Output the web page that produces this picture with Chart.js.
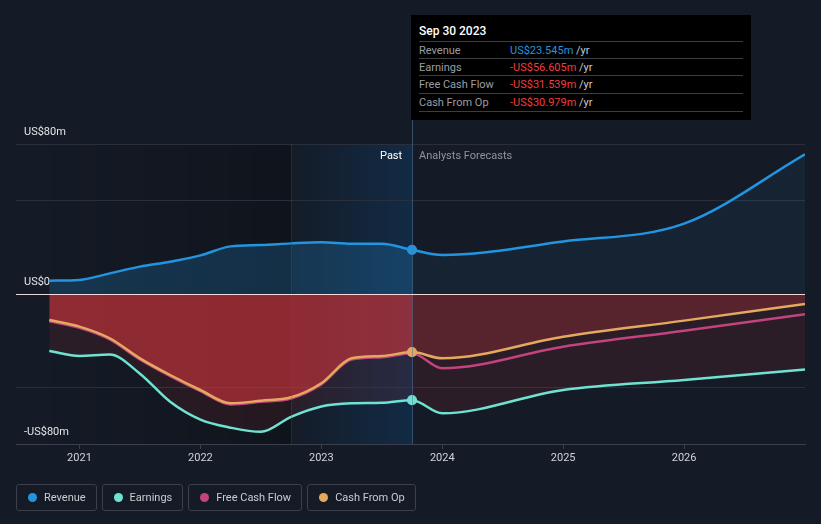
<!DOCTYPE html>
<html>
<head>
<meta charset="utf-8">
<script src="https://cdn.jsdelivr.net/npm/chart.js@4.4.1/dist/chart.umd.min.js"></script>
<style>
  body { margin: 0; background: #151b26; font-family: Roboto, "Open Sans", sans-serif; }
  #wrap { position: relative; width: 821px; height: 524px; overflow: hidden; }
  #myChart { position: absolute; left: 0; top: 0; }
  .tip { position: absolute; left: 411px; top: 15px; width: 340px; height: 105px; background: #000; }
  .tip .title { position: absolute; left: 8px; top: 9px; color: #fff; font-size: 12px; font-weight: 500; }
  .tip .row { position: absolute; left: 8px; width: 324px; height: 17px; border-top: 1px solid #3a3d42; font-size: 11px; line-height: 17px; color: #9a9ea5; }
  .tip .row .val { position: absolute; left: 91px; top: 0; }
  .tip .last { position: absolute; left: 8px; width: 324px; top: 96px; border-top: 1px solid #3a3d42; }
  .blue { color: #2394df; }
  .red { color: #ef3e3e; }
  .yr { color: #c8cbd0; }
  .note { position: absolute; top: 149px; font-size: 11px; }
  .legend { position: absolute; left: 16px; top: 484px; display: flex; gap: 5px; }
  .legend div { height: 25px; border: 1px solid #3a3f4a; border-radius: 3px; padding: 0 10px 0 11px; display: flex; align-items: center; font-size: 11px; color: #c9ccd1; }
  .legend span { display: inline-block; width: 9px; height: 9px; border-radius: 50%; margin-right: 7px; }
</style>
</head>
<body>
<div id="wrap">
  <canvas id="myChart" width="821" height="524"></canvas>
  <div class="tip">
    <div class="title">Sep 30 2023</div>
    <div class="row" style="top:26px">Revenue<span class="val"><span class="blue">US$23.545m</span> <span class="yr">/yr</span></span></div>
    <div class="row" style="top:43px">Earnings<span class="val"><span class="red">-US$56.605m</span> <span class="yr">/yr</span></span></div>
    <div class="row" style="top:60px">Free Cash Flow<span class="val"><span class="red">-US$31.539m</span> <span class="yr">/yr</span></span></div>
    <div class="row" style="top:78px">Cash From Op<span class="val"><span class="red">-US$30.979m</span> <span class="yr">/yr</span></span></div>
    <div class="last"></div>
  </div>
  <div class="note" style="left:380px;color:#fff">Past</div>
  <div class="note" style="left:419px;color:#8f949c">Analysts Forecasts</div>
  <div class="legend">
    <div><span style="background:#2394df"></span>Revenue</div>
    <div><span style="background:#6fe3d2"></span>Earnings</div>
    <div><span style="background:#c2437e"></span>Free Cash Flow</div>
    <div><span style="background:#e4a95f"></span>Cash From Op</div>
  </div>
</div>
<script>
const ctx = document.getElementById('myChart');

// quarterly trailing figures up to Sep 2023, then analyst forecasts (US$m)
const dates = [2020.75, 2021, 2021.25, 2021.5, 2021.75, 2022, 2022.25, 2022.5, 2022.75, 2023, 2023.25, 2023.5, 2023.75, 2024, 2025, 2026, 2027]
const revenue = [7.1, 7.5, 11, 14.6, 17.2, 20.6, 25.4, 26.1, 27, 27.6, 26.8, 26.8, 23.545, 20.8, 28, 37.5, 74.5]
const earnings = [-30.4, -33, -32.3, -42.5, -57.5, -67, -71.3, -73.5, -65.5, -60, -58.3, -58, -56.605, -63.6, -51.2, -45.9, -40.2]
const freeCashFlow = [-14.5, -18, -24.2, -34.9, -43.8, -51.8, -58.9, -57.5, -55.7, -48.2, -34.9, -33.7, -31.539, -39.6, -28.1, -19.6, -10.8]
const cashFromOp = [-13.9, -17.4, -23.6, -34.3, -43.2, -51.2, -58.3, -56.9, -55.1, -47.6, -34.3, -33.1, -30.979, -34.3, -22.8, -14.2, -5.3]
const yearTicks = [2021, 2022, 2023, 2024, 2025, 2026]
const yTicks = [-80, -50, 0, 50, 80]
const yLabels = { '80': 'US$80m', '0': 'US$0', '-80': '-US$80m' }

const NOW = 2023.75
const LAST_YEAR = 2022.75

function points (values) {
  return values.map((v, i) => ({ x: dates[i], y: v }))
}

// fill that is stronger on the past side than on the forecast side
function splitFill (past, future) {
  return function (context) {
    const chart = context.chart
    const { chartArea, scales } = chart
    if (!chartArea) return past
    const g = chart.ctx.createLinearGradient(chartArea.left, 0, chartArea.right, 0)
    let p = (scales.x.getPixelForValue(NOW) - chartArea.left) / (chartArea.right - chartArea.left)
    p = Math.max(0, Math.min(0.999, p))
    g.addColorStop(0, past)
    g.addColorStop(p, past)
    g.addColorStop(p + 0.001, future)
    g.addColorStop(1, future)
    return g
  }
}

function marker (r) {
  return c => (c.raw && c.raw.x === NOW ? r : 0)
}

const backdrop = {
  id: 'backdrop',
  beforeDraw (chart) {
    const { ctx: c, chartArea: a, scales } = chart
    const x0 = scales.x.getPixelForValue(dates[0])
    const x1 = scales.x.getPixelForValue(LAST_YEAR)
    const x2 = scales.x.getPixelForValue(NOW)
    c.save()
    let g = c.createLinearGradient(x0, 0, x1, 0)
    g.addColorStop(0, 'rgba(0,0,0,0)')
    g.addColorStop(1, 'rgba(0,0,0,0.25)')
    c.fillStyle = g
    c.fillRect(x0, a.top, x1 - x0, a.bottom - a.top)
    g = c.createLinearGradient(x1, 0, x2, 0)
    g.addColorStop(0, 'rgba(10,90,160,0.02)')
    g.addColorStop(1, 'rgba(10,90,160,0.26)')
    c.fillStyle = g
    c.fillRect(x1, a.top, x2 - x1, a.bottom - a.top)
    c.restore()
  },
  afterDatasetsDraw (chart) {
    const { ctx: c, chartArea: a, scales } = chart
    const y0 = Math.round(scales.y.getPixelForValue(0)) + 0.5
    const x1 = Math.round(scales.x.getPixelForValue(LAST_YEAR)) + 0.5
    const x2 = Math.round(scales.x.getPixelForValue(NOW)) + 0.5
    c.save()
    c.lineWidth = 1
    c.strokeStyle = 'rgba(40,100,150,0.28)'
    c.beginPath(); c.moveTo(x1, a.top); c.lineTo(x1, a.bottom); c.stroke()
    c.strokeStyle = 'rgba(80,120,160,0.55)'
    c.beginPath(); c.moveTo(x2, 120); c.lineTo(x2, a.bottom); c.stroke()
    c.strokeStyle = 'rgba(255,235,235,0.9)'
    c.beginPath(); c.moveTo(a.left, y0); c.lineTo(a.right, y0); c.stroke()
    c.restore()
  }
}

Chart.defaults.font.family = 'Roboto'
Chart.defaults.font.size = 11
Chart.defaults.color = '#d0d3d8'

const config = {
  type: 'line',
  data: {
    datasets: [{
      label: 'Revenue',
      data: points(revenue),
      borderColor: '#2394df',
      backgroundColor: splitFill('rgba(35,148,223,0.22)', 'rgba(35,148,223,0.07)'),
      fill: 'origin',
      order: 1,
      pointBackgroundColor: '#2394df'
    }, {
      label: 'Earnings',
      data: points(earnings),
      borderColor: '#6fe3d2',
      backgroundColor: 'rgba(200,50,60,0.12)',
      fill: 'origin',
      order: 4,
      pointBackgroundColor: '#6fe3d2'
    }, {
      label: 'Free Cash Flow',
      data: points(freeCashFlow),
      borderColor: '#c2437e',
      backgroundColor: '#c2437e',
      fill: false,
      order: 3,
      pointRadius: 0
    }, {
      label: 'Cash From Op',
      data: points(cashFromOp),
      borderColor: '#e4a95f',
      backgroundColor: splitFill('rgba(210,52,58,0.6)', 'rgba(205,50,55,0.28)'),
      fill: 'origin',
      order: 2,
      pointBackgroundColor: '#e4a95f'
    }]
  },
  options: {
    responsive: false,
    animation: false,
    layout: { padding: { left: 16, right: 16, top: 144, bottom: 50 } },
    elements: {
      line: { borderWidth: 2.5, cubicInterpolationMode: 'monotone' },
      point: { radius: marker(4.5), hoverRadius: 0, borderColor: '#ffffff', borderWidth: 1.2 }
    },
    plugins: {
      legend: { display: false },
      tooltip: { enabled: false }
    },
    scales: {
      x: {
        type: 'linear',
        min: 2020.475,
        max: 2027,
        afterBuildTicks: s => { s.ticks = yearTicks.map(v => ({ value: v })) },
        afterFit: s => { s.height = 30 },
        ticks: { callback: v => String(v), padding: 3, color: '#d0d3d8', maxRotation: 0 },
        grid: { drawOnChartArea: false, drawTicks: true, tickLength: 5, color: '#3b414c' },
        border: { color: '#3b414c' }
      },
      y: {
        min: -80,
        max: 80,
        afterBuildTicks: s => { s.ticks = yTicks.map(v => ({ value: v })) },
        afterFit: s => { s.width = 0 },
        ticks: {
          mirror: true,
          padding: 8,
          labelOffset: -12,
          color: '#e2e4e8',
          callback: v => yLabels[String(v)] || ''
        },
        grid: { drawTicks: false, color: c => (c.tick && c.tick.value === -80 ? '#3b414c' : '#2a303b') },
        border: { display: false }
      }
    }
  },
  plugins: [backdrop]
}

const chart = new Chart(ctx, config);
</script>
</body>
</html>
